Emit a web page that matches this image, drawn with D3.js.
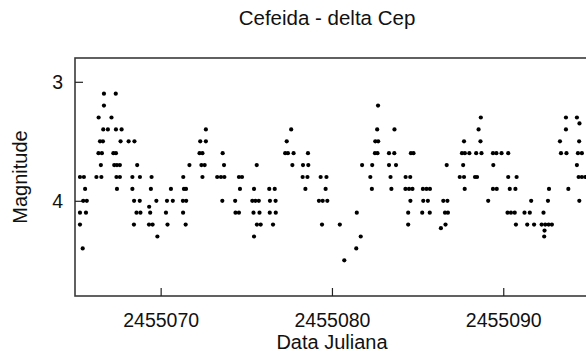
<!DOCTYPE html>
<html>
<head>
<meta charset="utf-8">
<script src="https://cdn.jsdelivr.net/npm/d3@7"></script>
<style>
  html, body { margin: 0; padding: 0; background: #fff; }
  svg { display: block; }
  text { font-family: "Liberation Sans", Arial, Helvetica, sans-serif; fill: #111; }
</style>
</head>
<body>
<svg id="chart" width="586" height="356"></svg>
<script>
// Light curve of delta Cephei: Julian date vs. visual magnitude
const julianDates = [
  // 2455065 - 2455070
  2455066.69, 2455067.38, 2455066.69, 2455066.38, 2455067.13,
  2455066.65, 2455066.92, 2455067.39, 2455067.72,
  2455066.46, 2455066.63, 2455067.66, 2455068.13, 2455068.47,
  2455066.37, 2455066.57, 2455067.24, 2455067.39,
  2455066.51, 2455067.29, 2455067.45, 2455067.62, 2455068.63,
  2455065.29, 2455065.52, 2455066.25, 2455066.54, 2455067.42, 2455067.62, 2455068.35, 2455068.79, 2455069.47,
  2455065.59, 2455067.45, 2455068.35, 2455069.43,
  2455065.48, 2455065.69, 2455068.45, 2455068.78, 2455069.75,
  2455069.33,
  2455065.29, 2455065.64, 2455068.59, 2455068.82, 2455069.39,
  2455065.29, 2455068.44, 2455069.32, 2455069.53,
  2455069.81,
  2455065.45,
  // 2455070 - 2455075
  2455072.64,
  2455072.31, 2455072.64,
  2455072.27, 2455072.44, 2455073.62,
  2455071.68, 2455072.38, 2455072.57, 2455073.70,
  2455071.32, 2455072.44, 2455073.30, 2455073.52, 2455073.72, 2455074.57, 2455074.75,
  2455070.60, 2455071.36, 2455071.48, 2455074.63,
  2455070.37, 2455070.71, 2455071.30, 2455071.49, 2455073.60, 2455074.35,
  2455070.31, 2455071.31, 2455074.37, 2455074.57,
  2455070.40, 2455071.46,
  // 2455075 - 2455080
  2455077.62,
  2455077.36,
  2455077.27, 2455077.43, 2455077.76, 2455078.60,
  2455075.61, 2455077.69, 2455078.31, 2455078.62,
  2455078.29, 2455078.57, 2455079.34, 2455079.68,
  2455075.45, 2455076.34, 2455076.66, 2455078.45, 2455079.63,
  2455075.35, 2455075.53, 2455075.73, 2455076.38, 2455076.71, 2455079.24, 2455079.46, 2455079.73,
  2455075.42, 2455075.77, 2455076.37, 2455076.72,
  2455075.62, 2455075.84, 2455076.56, 2455079.42,
  2455075.45,
  // 2455080 - 2455085
  2455082.69,
  2455082.64, 2455083.65,
  2455082.53, 2455082.70,
  2455082.51, 2455082.66, 2455083.33, 2455083.64, 2455084.61, 2455084.76,
  2455081.76, 2455082.35, 2455083.33, 2455083.74,
  2455082.24, 2455083.42, 2455084.30, 2455084.57,
  2455082.33, 2455083.47, 2455084.29, 2455084.50, 2455084.70,
  2455084.58,
  2455081.45, 2455084.45,
  2455080.46, 2455084.45,
  2455081.68,
  2455081.42,
  2455080.72,
  // 2455085 - 2455090
  2455088.69,
  2455088.56,
  2455087.71, 2455088.67,
  2455087.59, 2455087.76, 2455088.02, 2455088.42, 2455088.73, 2455089.40, 2455089.60,
  2455086.70, 2455087.66, 2455089.42,
  2455087.46, 2455087.71, 2455088.35, 2455088.47,
  2455085.31, 2455085.52, 2455085.72, 2455087.75, 2455089.40, 2455089.62,
  2455085.33, 2455085.60, 2455086.50, 2455086.74, 2455089.12,
  2455085.27, 2455085.71, 2455086.60, 2455086.77,
  2455086.63,
  2455086.36,
  // 2455090 onwards
  2455093.66, 2455094.30,
  2455094.45,
  2455093.66,
  2455093.31, 2455094.43,
  2455089.90, 2455090.29, 2455093.37, 2455093.69, 2455094.36, 2455094.59,
  2455094.30,
  2455090.29, 2455090.78, 2455094.40, 2455094.59, 2455094.79,
  2455090.38, 2455090.71, 2455092.67, 2455093.80,
  2455091.63, 2455092.61, 2455094.44,
  2455090.25, 2455090.45, 2455090.67, 2455091.24, 2455091.55, 2455092.35,
  2455090.74, 2455091.40, 2455091.80, 2455092.24, 2455092.45, 2455092.65, 2455092.84,
  2455092.41,
  2455092.39
];

const magnitudes = [
  3.1, 3.1, 3.2, 3.3, 3.3,
  3.4, 3.4, 3.4, 3.4,
  3.5, 3.5, 3.5, 3.5, 3.5,
  3.6, 3.6, 3.6, 3.6,
  3.7, 3.7, 3.7, 3.7, 3.7,
  3.8, 3.8, 3.8, 3.8, 3.8, 3.8, 3.8, 3.8, 3.8,
  3.9, 3.9, 3.9, 3.9,
  4.0, 4.0, 4.0, 4.0, 4.0,
  4.05,
  4.1, 4.1, 4.1, 4.1, 4.1,
  4.2, 4.2, 4.2, 4.2,
  4.3,
  4.4,

  3.4,
  3.5, 3.5,
  3.6, 3.6, 3.6,
  3.7, 3.7, 3.7, 3.7,
  3.8, 3.8, 3.8, 3.8, 3.8, 3.8, 3.8,
  3.9, 3.9, 3.9, 3.9,
  4.0, 4.0, 4.0, 4.0, 4.0, 4.0,
  4.1, 4.1, 4.1, 4.1,
  4.2, 4.2,

  3.4,
  3.5,
  3.6, 3.6, 3.6, 3.6,
  3.7, 3.7, 3.7, 3.7,
  3.8, 3.8, 3.8, 3.8,
  3.9, 3.9, 3.9, 3.9, 3.9,
  4.0, 4.0, 4.0, 4.0, 4.0, 4.0, 4.0, 4.0,
  4.1, 4.1, 4.1, 4.1,
  4.2, 4.2, 4.2, 4.2,
  4.3,

  3.2,
  3.4, 3.4,
  3.5, 3.5,
  3.6, 3.6, 3.6, 3.6, 3.6, 3.6,
  3.7, 3.7, 3.7, 3.7,
  3.8, 3.8, 3.8, 3.8,
  3.9, 3.9, 3.9, 3.9, 3.9,
  4.0,
  4.1, 4.1,
  4.2, 4.2,
  4.3,
  4.4,
  4.5,

  3.3,
  3.4,
  3.5, 3.5,
  3.6, 3.6, 3.6, 3.6, 3.6, 3.6, 3.6,
  3.7, 3.7, 3.7,
  3.8, 3.8, 3.8, 3.8,
  3.9, 3.9, 3.9, 3.9, 3.9, 3.9,
  4.0, 4.0, 4.0, 4.0, 4.0,
  4.1, 4.1, 4.1, 4.1,
  4.2,
  4.23,

  3.3, 3.3,
  3.35,
  3.4,
  3.5, 3.5,
  3.6, 3.6, 3.6, 3.6, 3.6, 3.6,
  3.7,
  3.8, 3.8, 3.8, 3.8, 3.8,
  3.9, 3.9, 3.9, 3.9,
  4.0, 4.0, 4.0,
  4.1, 4.1, 4.1, 4.1, 4.1, 4.1,
  4.2, 4.2, 4.2, 4.2, 4.2, 4.2, 4.2,
  4.25,
  4.3
];

const xTicks = [2455070, 2455080, 2455090];
const yTicks = [3, 4];
const titleText = "Cefeida - delta Cep";
const xLabel = "Data Juliana";
const yLabel = "Magnitude";

const points = julianDates.map((d, i) => ({ jd: d, mag: magnitudes[i] }));

const svg = d3.select("#chart");
const plot = { left: 75, top: 58, bottom: 296 };
const pxPerDay = 17.13;
const xMin = 2455065, xMax = 2455096;

const x = d3.scaleLinear()
  .domain([xMin, xMax])
  .range([plot.left, plot.left + (xMax - xMin) * pxPerDay]);

// magnitude axis runs downward: brighter stars sit higher
const y = d3.scaleLinear()
  .domain([2.8, 4.8])
  .range([plot.top, plot.bottom]);

// frame around the plotting region (right side runs past the window)
svg.append("rect")
  .attr("x", x(xMin))
  .attr("y", plot.top)
  .attr("width", x(xMax) - x(xMin))
  .attr("height", plot.bottom - plot.top)
  .attr("fill", "none")
  .attr("stroke", "#3a3a3a")
  .attr("stroke-width", 1.6);

// axes with inward ticks
const xAxis = d3.axisBottom(x)
  .tickValues(xTicks)
  .tickFormat(d3.format("d"))
  .tickSizeInner(-8)
  .tickSizeOuter(0)
  .tickPadding(17.5);

const yAxis = d3.axisLeft(y)
  .tickValues(yTicks)
  .tickFormat(d3.format("d"))
  .tickSizeInner(-8)
  .tickSizeOuter(0)
  .tickPadding(12);

const tickFont = 19.5;

const gx = svg.append("g")
  .attr("transform", `translate(0,${plot.bottom})`)
  .call(xAxis);
gx.select(".domain").remove();
gx.selectAll(".tick line").attr("stroke", "#222").attr("stroke-width", 1.2);
gx.selectAll(".tick text")
  .attr("font-size", tickFont)
  .attr("fill", "#111")
  .style("font-family", "'Liberation Sans', Arial, sans-serif");

const gy = svg.append("g")
  .attr("transform", `translate(${plot.left},0)`)
  .call(yAxis);
gy.select(".domain").remove();
gy.selectAll(".tick line").attr("stroke", "#222").attr("stroke-width", 1.2);
gy.selectAll(".tick text")
  .attr("font-size", tickFont)
  .attr("fill", "#111")
  .style("font-family", "'Liberation Sans', Arial, sans-serif");

// observations
svg.append("g")
  .selectAll("circle")
  .data(points)
  .join("circle")
  .attr("cx", d => x(d.jd))
  .attr("cy", d => y(d.mag))
  .attr("r", 2.1)
  .attr("fill", "#000");

// titles
svg.append("text")
  .attr("x", 327)
  .attr("y", 25)
  .attr("text-anchor", "middle")
  .attr("font-size", 20.5)
  .text(titleText);

svg.append("text")
  .attr("x", 332)
  .attr("y", 349)
  .attr("text-anchor", "middle")
  .attr("font-size", 20)
  .text(xLabel);

svg.append("text")
  .attr("transform", `translate(27,${(plot.top + plot.bottom) / 2}) rotate(-90)`)
  .attr("text-anchor", "middle")
  .attr("font-size", 20)
  .text(yLabel);
</script>
</body>
</html>
